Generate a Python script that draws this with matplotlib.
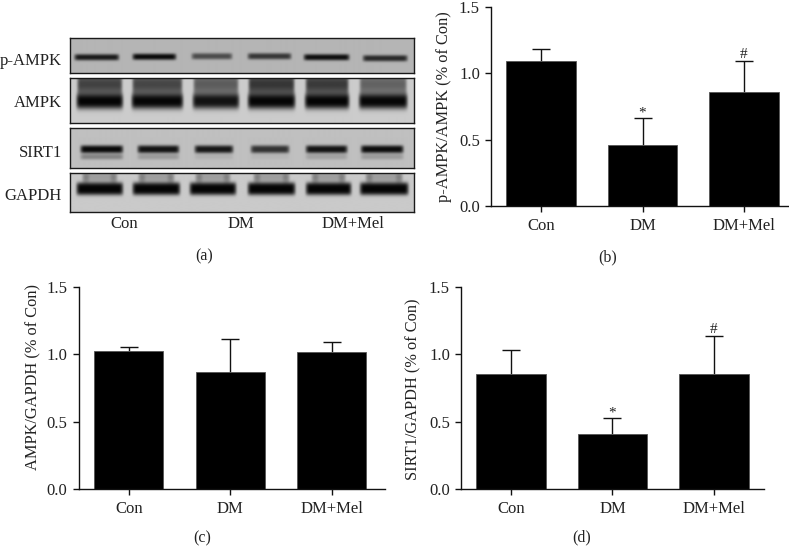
import numpy as np
import matplotlib
matplotlib.use('Agg')
import matplotlib.pyplot as plt

plt.rcParams['font.family'] = ['Liberation Serif', 'DejaVu Serif']
plt.rcParams['text.color'] = '#222222'
plt.rcParams['axes.labelcolor'] = '#222222'
plt.rcParams['xtick.labelcolor'] = '#222222'
plt.rcParams['ytick.labelcolor'] = '#222222'

W, H = 789, 546

groups = ['Con', 'DM', 'DM+Mel']

# bar heights and top of the error bars
pampk_vals = [1.09, 0.46, 0.86]
pampk_tops = [1.185, 0.66, 1.09]
ampk_vals = [1.02, 0.87, 1.015]
ampk_tops = [1.05, 1.11, 1.09]
sirt1_vals = [0.85, 0.41, 0.855]
sirt1_tops = [1.03, 0.53, 1.135]

pampk_marks = ['', '*', '#']
ampk_marks = ['', '', '']
sirt1_marks = ['', '*', '#']

yticks = [0.0, 0.5, 1.0, 1.5]

blot_names = ['p-AMPK', 'AMPK', 'SIRT1', 'GAPDH']

# band darkness per lane, read by eye from the blots
pampk_dark = [0.88, 0.97, 0.60, 0.72, 0.95, 0.80]
ampk_dark = [0.98, 0.97, 0.90, 0.97, 0.98, 0.97]
ampk_smear = [0.68, 0.66, 0.55, 0.74, 0.72, 0.52]
sirt1_dark = [0.97, 0.92, 0.90, 0.75, 0.92, 0.95]
sirt1_ghost = [0.32, 0.20, 0.08, 0.05, 0.16, 0.20]
gapdh_dark = [0.98, 0.98, 0.98, 0.98, 0.98, 0.98]


def px_axes(fig, left, top, right, bottom):
    return fig.add_axes([left / W, 1 - bottom / H, (right - left) / W, (bottom - top) / H])


def band(img, xs, ys, x0, x1, yc, thick, dark, edge=4.0, power=4):
    # soft edged horizontal band, darkens what is already in img
    across = np.exp(-np.abs((ys - yc) / thick) ** power)
    along = np.clip((xs - x0) / edge, 0, 1) * np.clip((x1 - xs) / edge, 0, 1)
    img *= 1 - dark * np.outer(across, np.sqrt(along))


def soften(img, sigma=2.0):
    k = np.exp(-0.5 * (np.arange(-6, 7) / sigma) ** 2)
    k = k / k.sum()
    pad = np.pad(img, 6, mode='edge')
    pad = np.apply_along_axis(lambda r: np.convolve(r, k, mode='same'), 0, pad)
    pad = np.apply_along_axis(lambda r: np.convolve(r, k, mode='same'), 1, pad)
    return pad[6:-6, 6:-6]


def blot(fig, top, bottom, bg):
    ax = px_axes(fig, 69.5, top, 414, bottom)
    xs = np.arange(69.5, 414, 0.5)
    ys = np.arange(top, bottom, 0.5)
    img = np.full((len(ys), len(xs)), bg)
    return ax, xs, ys, img


def finish_blot(ax, img, top, bottom):
    ax.imshow(soften(img), cmap='gray', vmin=0, vmax=1, aspect='auto',
              extent=[69.5, 414, bottom, top], interpolation='bilinear')
    ax.set_xticks([])
    ax.set_yticks([])
    for s in ax.spines.values():
        s.set_linewidth(1.0)
        s.set_color('#1a1a1a')


def bars(fig, box, vals, tops, marks, ylabel, label_xy):
    left, top, right, bottom = box
    ax = px_axes(fig, left, top, right, bottom)
    x = np.arange(len(groups))
    # 101.5 px between bars, first bar centre 50 px off the spine
    ax.set_xlim(-50 / 101.5, -50 / 101.5 + (right - left) / 101.5)
    ax.set_ylim(0, 1.5)
    ax.bar(x, vals, width=0.68, color='black', edgecolor='#555555', linewidth=0.6, zorder=2)
    lower = [0 for v in vals]
    upper = [t - v for t, v in zip(tops, vals)]
    eb = ax.errorbar(x, vals, yerr=[lower, upper], fmt='none', ecolor='#111111',
                     elinewidth=1.0, capsize=6.5, capthick=1.0, zorder=1)
    eb[1][0].set_visible(False)
    for i, m in enumerate(marks):
        if m != '':
            off = -1.2 if m == '*' else 0
            ax.annotate(m, (x[i], tops[i]), xytext=(0, off), textcoords='offset points',
                        ha='center', va='bottom', fontsize=11)
    ax.set_xticks(x)
    ax.set_xticklabels(groups)
    ax.set_yticks(yticks)
    ax.set_yticklabels(['%.1f' % t for t in yticks])
    ax.tick_params(axis='both', labelsize=12, length=4.5, width=1.0, pad=3.5, color='#111111')
    ax.tick_params(axis='x', pad=3.8)
    ax.spines['top'].set_visible(False)
    ax.spines['right'].set_visible(False)
    ax.spines['left'].set_linewidth(1.0)
    ax.spines['bottom'].set_linewidth(1.0)
    ax.spines['left'].set_color('#111111')
    ax.spines['bottom'].set_color('#111111')
    ax.set_ylabel(ylabel, fontsize=11.8, va='center')
    ax.yaxis.set_label_coords((label_xy[0] - left) / (right - left),
                              (bottom - label_xy[1]) / (bottom - top))
    return ax


fig = plt.figure(figsize=(W / 100, H / 100), dpi=100, facecolor='white')

# p-AMPK
ax, xs, ys, img = blot(fig, 38, 72.7, 0.71)
lanes = [(73, 119), (131, 176), (190, 232), (246, 291), (302, 349), (361, 407)]
for (a, b), d, yc in zip(lanes, pampk_dark, [57, 56.5, 56, 56, 57, 58]):
    band(img, xs, ys, a, b, yc, 3.0, d)
finish_blot(ax, img, 38, 72.7)

# AMPK
ax, xs, ys, img = blot(fig, 78, 123, 0.80)
lanes = [(75, 123), (130, 183), (191, 239), (246, 295), (303, 349), (357, 407)]
for (a, b), d, sm in zip(lanes, ampk_dark, ampk_smear):
    band(img, xs, ys, a + 1, b - 1, 84, 14, sm, edge=3, power=2)
    band(img, xs, ys, a, b, 101, 7.5, d, power=3)
finish_blot(ax, img, 78, 123)

# SIRT1
ax, xs, ys, img = blot(fig, 128, 168, 0.75)
lanes = [(79, 123), (136, 179), (193, 233), (249, 289), (304, 347), (359, 403)]
for (a, b), d, g in zip(lanes, sirt1_dark, sirt1_ghost):
    band(img, xs, ys, a, b, 149, 3.8, d)
    band(img, xs, ys, a, b, 156.5, 2.6, g)
finish_blot(ax, img, 128, 168)

# GAPDH
ax, xs, ys, img = blot(fig, 172.7, 212, 0.79)
lanes = [(75, 123), (131, 180), (188, 236), (246, 295), (304, 351), (358, 408)]
for (a, b), d in zip(lanes, gapdh_dark):
    band(img, xs, ys, a + 6, b - 6, 177, 7, 0.22, power=2)
    band(img, xs, ys, a + 6, a + 14, 178, 6, 0.22, power=2)
    band(img, xs, ys, b - 14, b - 6, 178, 6, 0.22, power=2)
    band(img, xs, ys, a, b, 189, 6.2, d)
finish_blot(ax, img, 172.7, 212)


# labels round the blots, in pixel positions
def px_text(x, y, s, ha='center', size=12):
    fig.text(x / W, 1 - y / H, s, ha=ha, va='center', fontsize=size)


for name, y in zip(blot_names, [61, 103, 153, 196]):
    px_text(62, y, name, ha='right')
for name, x in zip(groups, [124, 241, 353]):
    px_text(x, 224.5, name)

bars(fig, (491, 6.7, 789, 206), pampk_vals, pampk_tops, pampk_marks,
     'p-AMPK/AMPK (% of Con)', (444, 107))
bars(fig, (78.7, 286.7, 385, 489), ampk_vals, ampk_tops, ampk_marks,
     'AMPK/GAPDH (% of Con)', (33, 377.5))
bars(fig, (461, 286.7, 764, 489), sirt1_vals, sirt1_tops, sirt1_marks,
     'SIRT1/GAPDH (% of Con)', (413, 389))

px_text(204, 256, '(a)', size=11.5)
px_text(608, 257, '(b)', size=11.5)
px_text(201.7, 538, '(c)', size=11.5)
px_text(582, 537.5, '(d)', size=11.5)

fig.savefig('out.png', dpi=100)
